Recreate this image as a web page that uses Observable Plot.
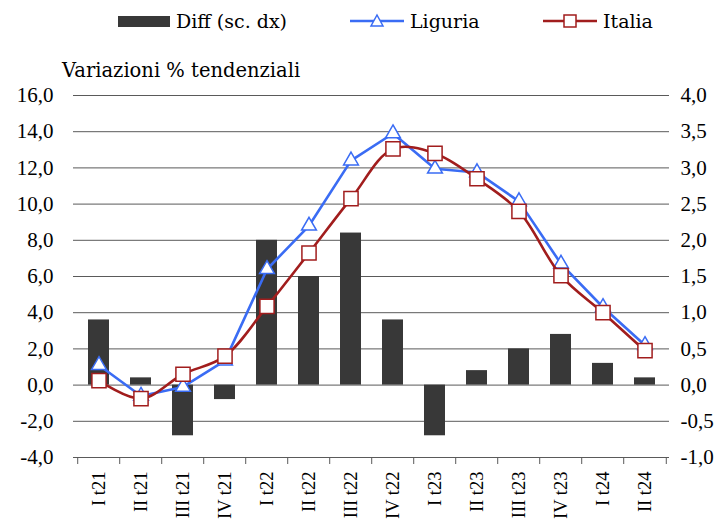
<!DOCTYPE html>
<html>
<head>
<meta charset="utf-8">
<script src="https://cdn.jsdelivr.net/npm/d3@7"></script>
<script src="https://cdn.jsdelivr.net/npm/@observablehq/plot@0.6"></script>
<style>
  html, body { margin: 0; padding: 0; background: #fff; width: 724px; height: 522px; overflow: hidden; }
  body { font-family: "DejaVu Serif", serif; color: #000; position: relative; }
  #legend { position: relative; height: 40px; font-size: 19px; }
  .item { position: absolute; top: 7px; display: flex; align-items: center; height: 28px; }
  .item svg { margin-right: 6px; }
  #title { position: relative; height: 44px; font-size: 19.5px; padding-left: 62px; line-height: 20px; box-sizing: border-box; padding-top: 21px; }
  #chart svg { display: block; }
</style>
</head>
<body>
<div id="legend"></div>
<div id="title">Variazioni % tendenziali</div>
<div id="chart"></div>
<script>
const categories = ["I t21","II t21","III t21","IV t21","I t22","II t22","III t22","IV t22","I t23","II t23","III t23","IV t23","I t24","II t24"];
const diff    = [0.9, 0.1, -0.7, -0.2, 2.0, 1.5, 2.1, 0.9, -0.7, 0.2, 0.5, 0.7, 0.3, 0.1]; // right axis
const liguria = [1.1, -0.6, -0.1, 1.35, 6.4, 8.8, 12.4, 13.9, 11.95, 11.75, 10.15, 6.7, 4.3, 2.2];
const italia  = [0.25, -0.75, 0.6, 1.6, 4.35, 7.3, 10.3, 13.05, 12.8, 11.4, 9.6, 6.05, 4.0, 1.9];
const leftTicks = [-4, -2, 0, 2, 4, 6, 8, 10, 12, 14, 16];
const rightFactor = 4; // left = right * 4

const seriesNames = ["Diff (sc. dx)", "Liguria", "Italia"];
const colors = {bar: "#383838", liguria: "#3A6CF4", italia: "#A11D1D"};

// Legend
const legend = document.getElementById("legend");
const legendLeft = [118, 350, 543];
seriesNames.forEach((name, i) => {
  const div = document.createElement("div");
  div.className = "item";
  div.style.left = legendLeft[i] + "px";
  let sw;
  if (i === 0) {
    sw = `<svg width="52" height="12"><rect x="0" y="1" width="52" height="11" fill="${colors.bar}"/></svg>`;
  } else if (i === 1) {
    sw = `<svg width="54" height="16"><line x1="0" x2="54" y1="8" y2="8" stroke="${colors.liguria}" stroke-width="2.5"/><path d="M27,2 L33,13 L21,13 Z" fill="#fff" stroke="${colors.liguria}" stroke-width="1.5"/></svg>`;
  } else {
    sw = `<svg width="54" height="16"><line x1="0" x2="54" y1="8" y2="8" stroke="${colors.italia}" stroke-width="2.5"/><rect x="21" y="2" width="12" height="12" fill="#fff" stroke="${colors.italia}" stroke-width="1.5"/></svg>`;
  }
  div.innerHTML = sw + `<span>${name}</span>`;
  legend.appendChild(div);
});

const data = categories.map((c, i) => ({cat: c, diff: diff[i], liguria: liguria[i], italia: italia[i]}));
const fmt = v => v.toFixed(1).replace(".", ",");

const W = 724, H = 438, mL = 73, mR = 55, mT = 11, mB = 65;
const step = (W - mL - mR) / categories.length;

const chart = Plot.plot({
  width: W, height: H,
  marginLeft: mL, marginRight: mR, marginTop: mT, marginBottom: mB,
  style: {fontFamily: "Liberation Serif, serif", fontSize: "21px", color: "#000", background: "#fff"},
  x: {domain: categories, paddingInner: 0.5, paddingOuter: 0.25, label: null},
  y: {domain: [-4, 16], label: null},
  marks: [
    Plot.ruleY(leftTicks.filter(d => d > -4), {stroke: "#5a5a5a", strokeWidth: 1}),
    Plot.barY(data, {x: "cat", y: d => d.diff * rightFactor, fill: colors.bar}),
    Plot.ruleY([-4], {stroke: "#5a5a5a", strokeWidth: 1}),
    Plot.ruleX(categories, {x: d => d, y1: -4, y2: -4, insetBottom: -7, dx: -step / 2, stroke: "#5a5a5a"}),
    Plot.ruleX(categories.slice(-1), {x: d => d, y1: -4, y2: -4, insetBottom: -7, dx: step / 2, stroke: "#5a5a5a"}),
    Plot.line(data, {x: "cat", y: "liguria", stroke: colors.liguria, strokeWidth: 2.6}),
    Plot.dot(data, {x: "cat", y: "liguria", symbol: "triangle", r: 5.5, fill: "#fff", stroke: colors.liguria, strokeWidth: 1.5}),
    Plot.line(data, {x: "cat", y: "italia", stroke: colors.italia, strokeWidth: 2.6, curve: "catmull-rom"}),
    Plot.dot(data, {x: "cat", y: "italia", symbol: "square", r: 8, fill: "#fff", stroke: colors.italia, strokeWidth: 1.5}),
    Plot.axisY({anchor: "left", ticks: leftTicks, tickSize: 0, tickPadding: 20, tickFormat: fmt, label: null}),
    Plot.axisY({anchor: "right", ticks: leftTicks, tickSize: 0, tickPadding: 11, tickFormat: d => fmt(d / rightFactor), label: null, textAnchor: "start"}),
    Plot.axisX({anchor: "bottom", tickSize: 0, tickPadding: 14, tickRotate: -90, fontSize: 18.5, label: null})
  ]
});
document.getElementById("chart").appendChild(chart);
</script>
</body>
</html>
